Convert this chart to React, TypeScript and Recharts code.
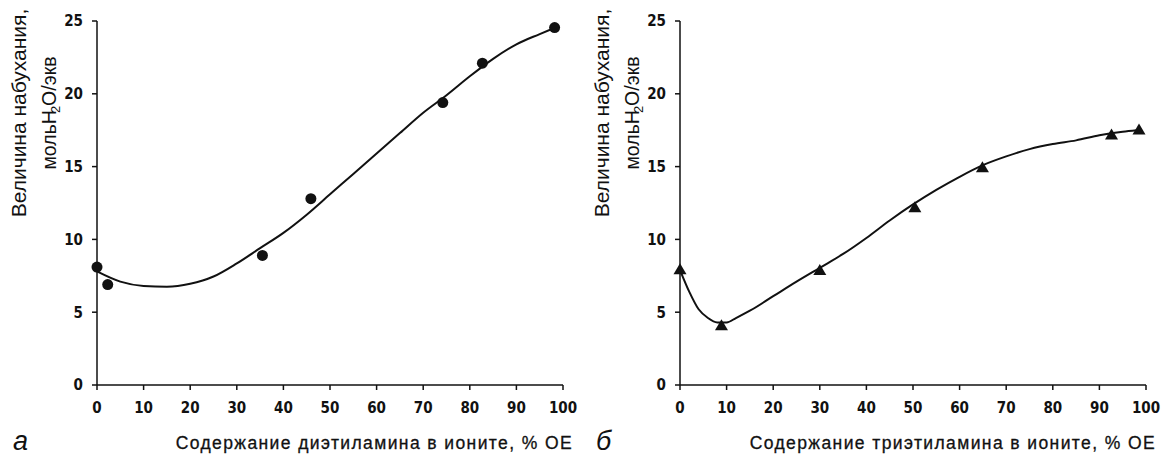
import { ComposedChart, Line, Scatter, XAxis, YAxis, Label } from "recharts";

// а) диэтиламин
const DEA_POINTS_X = [0, 2.3, 35.5, 45.9, 74.2, 82.7, 98.2];
const DEA_POINTS_Y = [8.1, 6.9, 8.9, 12.8, 19.4, 22.1, 24.55];
const DEA_CURVE_X = [0, 5, 10, 15, 20, 25, 30, 35, 40, 45, 50, 55, 60, 65, 70, 75, 80, 85, 90, 95, 98];
const DEA_CURVE_Y = [7.8, 7.1, 6.8, 6.75, 6.95, 7.45, 8.35, 9.4, 10.45, 11.7, 13.1, 14.5, 15.9, 17.3, 18.7, 19.9, 21.2, 22.4, 23.4, 24.1, 24.5];

// б) триэтиламин
const TEA_POINTS_X = [0, 8.9, 30, 50.4, 64.9, 92.6, 98.5];
const TEA_POINTS_Y = [7.95, 4.1, 7.9, 12.2, 14.95, 17.2, 17.55];
const TEA_CURVE_X = [0, 2, 4, 6, 8, 10, 12, 15, 20, 25, 30, 35, 40, 45, 50, 55, 60, 65, 70, 75, 80, 85, 90, 95, 98];
const TEA_CURVE_Y = [7.9, 6.4, 5.2, 4.6, 4.3, 4.3, 4.6, 5.1, 6.1, 7.1, 8.05, 9.0, 10.1, 11.3, 12.4, 13.4, 14.3, 15.1, 15.7, 16.2, 16.55, 16.8, 17.15, 17.4, 17.5];

const X_TICKS = [0, 10, 20, 30, 40, 50, 60, 70, 80, 90, 100];
const Y_TICKS = [0, 5, 10, 15, 20, 25];

const zip = (xs: number[], ys: number[]) => xs.map((x, i) => ({ x, y: ys[i] }));

const INK = "#111";
const tickStyle = {
  fontFamily: "'Liberation Sans Narrow', 'DejaVu Sans Condensed', 'Liberation Sans', sans-serif",
  fontWeight: 700,
  fontSize: 15,
  fill: INK,
};
const labelFont = "'Liberation Sans', Arial, sans-serif";

const Dot = (props: any) => <circle cx={props.cx} cy={props.cy} r={5.5} fill={INK} />;
const Tri = (props: any) => {
  const { cx, cy } = props;
  return <polygon points={`${cx - 6.5},${cy + 5} ${cx + 6.5},${cy + 5} ${cx},${cy - 6}`} fill={INK} />;
};

function YTitle({ viewBox }: any) {
  const cy = viewBox.y + 92;
  return (
    <g fontFamily={labelFont} fill={INK}>
      <text x={26} y={cy} transform={`rotate(-90 26 ${cy})`} textAnchor="middle" fontSize={21}>
        Величина набухания,
      </text>
      <text x={56} y={cy} transform={`rotate(-90 56 ${cy})`} textAnchor="middle" fontSize={19.5}>
        мольH<tspan fontSize={13} dy={4} dx={-3}>2</tspan>
        <tspan dy={-4}>O/экв</tspan>
      </text>
    </g>
  );
}

function Panel({
  points,
  curve,
  marker,
  title,
  letter,
}: {
  points: { x: number; y: number }[];
  curve: { x: number; y: number }[];
  marker: any;
  title: string;
  letter: string;
}) {
  return (
    <ComposedChart width={580} height={455} margin={{ top: 21, right: 17, bottom: 0, left: 0 }}>
      <XAxis
        dataKey="x"
        type="number"
        domain={[0, 100]}
        ticks={X_TICKS}
        interval={0}
        height={70}
        tickSize={5}
        tickMargin={12}
        tick={tickStyle}
        stroke={INK}
        strokeWidth={1.5}
      >
        <Label
          content={({ viewBox }: any) => (
            <g fill={INK}>
              <text x={13} y={viewBox.y + 65} fontFamily={labelFont} fontStyle="italic" fontSize={27}>
                {letter}
              </text>
              <text
                x={viewBox.x + viewBox.width + 10}
                y={viewBox.y + 64}
                textAnchor="end"
                fontFamily={labelFont}
                fontSize={17.5}
                letterSpacing={1.4}
                stroke={INK}
                strokeWidth={0.3}
              >
                {title}
              </text>
            </g>
          )}
        />
      </XAxis>
      <YAxis
        dataKey="y"
        type="number"
        domain={[0, 25]}
        ticks={Y_TICKS}
        interval={0}
        width={97}
        tickSize={5}
        tickMargin={9}
        tick={tickStyle}
        stroke={INK}
        strokeWidth={1.5}
      >
        <Label content={YTitle} />
      </YAxis>
      <Line
        data={curve}
        dataKey="y"
        type="monotone"
        stroke={INK}
        strokeWidth={2}
        dot={false}
        activeDot={false}
        isAnimationActive={false}
      />
      <Scatter data={points} dataKey="y" shape={marker} isAnimationActive={false} />
    </ComposedChart>
  );
}

export default function App() {
  return (
    <div style={{ position: "absolute", left: 0, top: 0, width: 1161, height: 455, background: "#fff" }}>
      <div style={{ position: "absolute", left: 0, top: 0 }}>
        <Panel
          points={zip(DEA_POINTS_X, DEA_POINTS_Y)}
          curve={zip(DEA_CURVE_X, DEA_CURVE_Y)}
          marker={Dot}
          title="Содержание диэтиламина в ионите, % ОЕ"
          letter="а"
        />
      </div>
      <div style={{ position: "absolute", left: 583, top: 0 }}>
        <Panel
          points={zip(TEA_POINTS_X, TEA_POINTS_Y)}
          curve={zip(TEA_CURVE_X, TEA_CURVE_Y)}
          marker={Tri}
          title="Содержание триэтиламина в ионите, % ОЕ"
          letter="б"
        />
      </div>
    </div>
  );
}
